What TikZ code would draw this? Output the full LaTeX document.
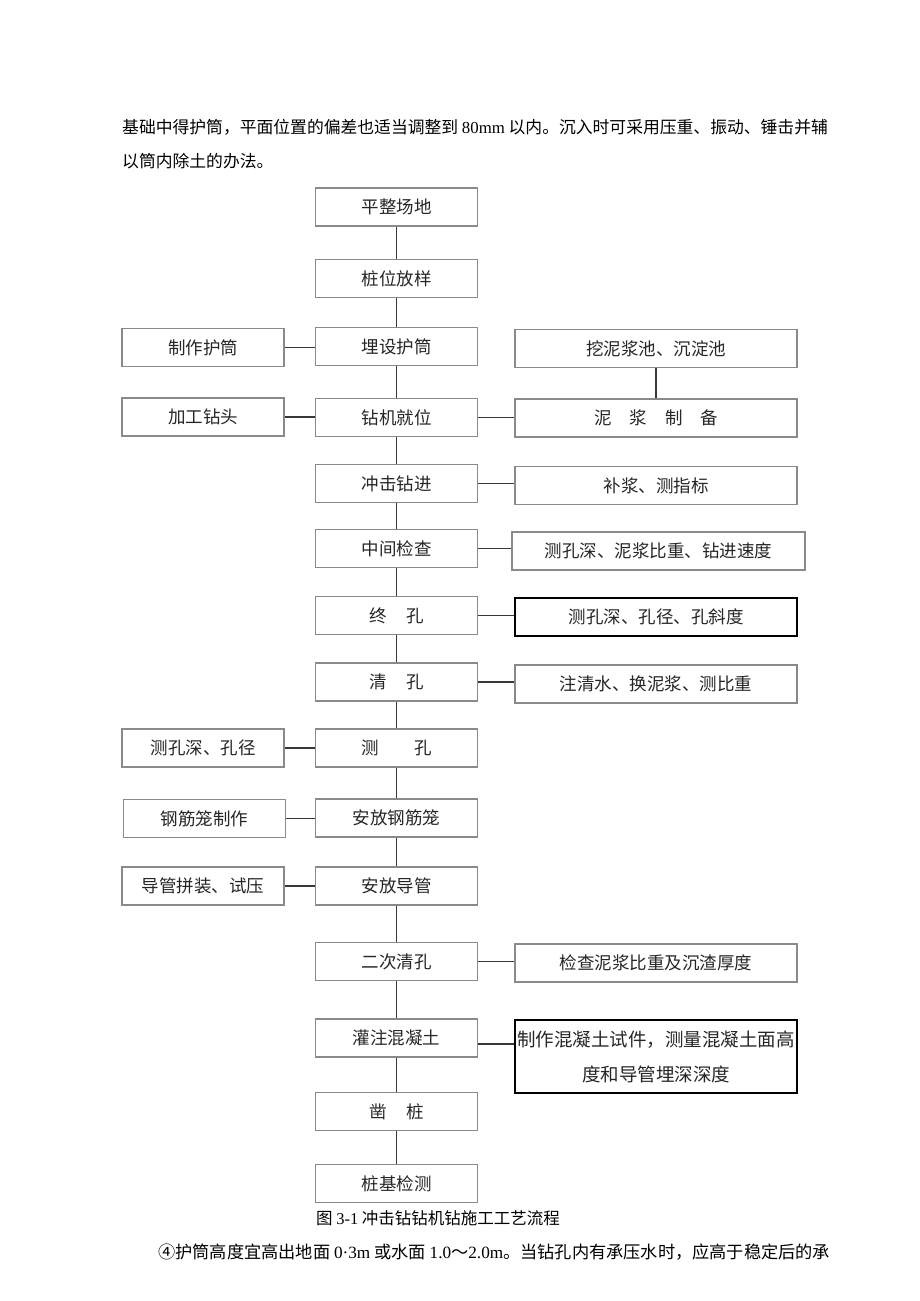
\documentclass[tikz,border=0pt]{standalone}
\usepackage{fontspec}
\setmainfont{Noto Sans CJK SC}
\newfontfamily\lat{Liberation Serif}
\definecolor{boxgray}{HTML}{8A8A8A}
\definecolor{linegray}{HTML}{383838}
\definecolor{textgray}{HTML}{262626}
\tikzset{
  box/.style={draw=boxgray, line width=1.2pt, inner sep=0pt, text=textgray,
              font=\fontsize{17.5}{20}\selectfont},
  mainbox/.style={box, minimum width=162pt, minimum height=38pt},
  sidebox/.style={box, minimum width=162pt, minimum height=38pt},
  rightbox/.style={box, minimum width=282pt, minimum height=38pt},
  strongbox/.style={draw=black, line width=1.6pt},
  link/.style={draw=linegray, line width=1.7pt},
  para/.style={font=\fontsize{16.8}{20}\selectfont, inner sep=0pt, anchor=west, text=black},
}
\newcommand{\gap}[1]{\hspace{#1}}
\begin{document}
\begin{tikzpicture}[x=1pt,y=-1pt]
\useasboundingbox (0,0) rectangle (920,1301);
\fill[white] (0,0) rectangle (920,1301);

% paragraph text
\node[para] (p1) at (122,127) {基础中得护筒，平面位置的偏差也适当调整到 {\lat 80mm} 以内。沉入时可采用压重、振动、锤击并辅};
\node[para] (p2) at (122,161) {以筒内除土的办法。};

% main column
\node[mainbox] (m1) at (396.5,207) {平整场地};
\node[mainbox] (m2) at (396.5,278.5) {桩位放样};
\node[mainbox] (m3) at (396.5,346.5) {埋设护筒};
\node[mainbox] (m4) at (396.5,417.5) {钻机就位};
\node[mainbox] (m5) at (396.5,483.5) {冲击钻进};
\node[mainbox] (m6) at (396.5,548.5) {中间检查};
\node[mainbox] (m7) at (396.5,615.5) {终\gap{20pt}孔};
\node[mainbox] (m8) at (396.5,682) {清\gap{20pt}孔};
\node[mainbox] (m9) at (396.5,748) {测\gap{36pt}孔};
\node[mainbox] (m10) at (396.5,818) {安放钢筋笼};
\node[mainbox] (m11) at (396.5,886) {安放导管};
\node[mainbox] (m12) at (396.5,961.5) {二次清孔};
\node[mainbox] (m13) at (396.5,1038) {灌注混凝土};
\node[mainbox] (m14) at (396.5,1111.5) {凿\gap{20pt}桩};
\node[mainbox] (m15) at (396.5,1183.5) {桩基检测};

% left column
\node[sidebox] (l3) at (203,347.5) {制作护筒};
\node[sidebox] (l4) at (203,417) {加工钻头};
\node[sidebox] (l9) at (203,748) {测孔深、孔径};
\node[sidebox] (l10) at (204.5,818.5) {钢筋笼制作};
\node[sidebox] (l11) at (203,886) {导管拼装、试压};

% right column
\node[rightbox] (r0) at (656,348.5) {挖泥浆池、沉淀池};
\node[rightbox] (r4) at (656,418) {泥\gap{18pt}浆\gap{18pt}制\gap{18pt}备};
\node[rightbox] (r5) at (656,485.5) {补浆、测指标};
\node[rightbox, minimum width=293pt] (r6) at (658.5,551) {测孔深、泥浆比重、钻进速度};
\node[rightbox, strongbox] (r7) at (656,617) {测孔深、孔径、孔斜度};
\node[rightbox] (r8) at (656,684) {注清水、换泥浆、测比重};
\node[rightbox] (r12) at (656,963) {检查泥浆比重及沉渣厚度};
\node[rightbox, strongbox, minimum height=73pt, align=center,
      font=\fontsize{18.5}{35}\selectfont] (r13) at (656,1056.5)
      {制作混凝土试件，测量混凝土面高\\度和导管埋深深度};

% caption and closing line
\node[para, anchor=center, font=\fontsize{16.5}{18}\selectfont] (cap) at (438,1218) {图 {\lat 3-1} 冲击钻钻机钻施工工艺流程};
\node[para, font=\fontsize{17.2}{20}\selectfont] (p3) at (158,1252) {④护筒高度宜高出地面 {\lat 0·3m} 或水面 {\lat 1.0}～{\lat 2.0m}。当钻孔内有承压水时，应高于稳定后的承};

% main vertical connectors
\foreach \a/\b in {m1/m2,m2/m3,m3/m4,m4/m5,m5/m6,m6/m7,m7/m8,m8/m9,m9/m10,m10/m11,m11/m12,m12/m13,m13/m14,m14/m15}
  \draw[link] (\a.south) -- (\b.north);

% left connectors
\foreach \l/\m in {l3/m3,l4/m4,l9/m9,l10/m10,l11/m11}
  \draw[link] (\l.east) -- (\l.east -| \m.west);

% right connectors
\foreach \m/\r in {m4/r4,m5/r5,m6/r6,m7/r7,m8/r8,m12/r12}
  \draw[link] (\m.east) -- (\m.east -| \r.west);
\draw[link] ([yshift=-6pt]m13.east) -- ([yshift=-6pt]m13.east -| r13.west);
\draw[link] (r0.south) -- (r4.north);
\end{tikzpicture}
\end{document}
